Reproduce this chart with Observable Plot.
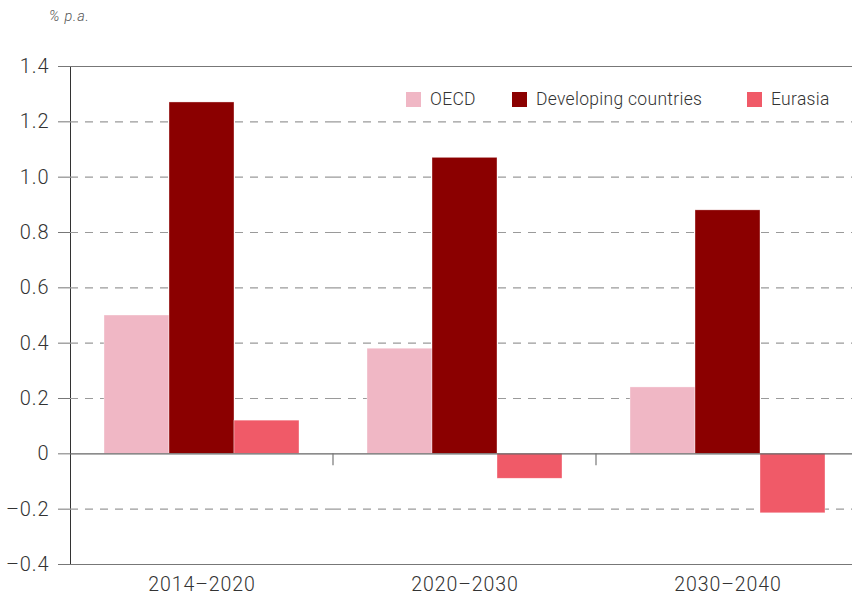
<!DOCTYPE html>
<html>
<head>
<meta charset="utf-8">
<script src="https://cdn.jsdelivr.net/npm/d3@7"></script>
<script src="https://cdn.jsdelivr.net/npm/@observablehq/plot@0.6"></script>
<style>
  html, body { margin: 0; padding: 0; background: #fff; overflow: hidden; }
  #wrap { position: relative; width: 852px; height: 600px; overflow: hidden; font-family: Roboto, "Liberation Sans", sans-serif; font-weight: 300; color: #333; }
  #unit { position: absolute; left: 49px; top: 8px; font-size: 14.5px; letter-spacing: 0.8px; font-style: italic; color: #555; }
  #chart { position: absolute; left: 0; top: 30px; }
  #legend { position: absolute; top: 89px; left: 0; width: 852px; height: 20px; }
  .item { position: absolute; top: 0; display: flex; align-items: center; font-size: 17.5px; letter-spacing: 0.3px; color: #333; white-space: nowrap; }
  .sw { width: 15px; height: 15px; margin-right: 9px; }
  #chart svg text { font-family: Roboto, "Liberation Sans", sans-serif; font-weight: 300; fill: #333; }
  #chart svg [aria-label="y-axis tick label"] text { font-size: 20px; letter-spacing: 0.9px; }
  #chart svg [aria-label="fx-axis tick label"] text { font-size: 19.5px; letter-spacing: 0.9px; }
</style>
</head>
<body>
<div id="wrap">
  <div id="unit">% p.a.</div>
  <div id="chart"></div>
  <div id="legend"></div>
</div>
<script>
const periods = ["2014–2020", "2020–2030", "2030–2040"];
const series = ["OECD", "Developing countries", "Eurasia"];
const oecd = [0.50, 0.38, 0.24];
const developing = [1.27, 1.07, 0.88];
const eurasia = [0.12, -0.09, -0.215];
const colors = ["#f0b7c5", "#8b0000", "#f05a68"];
const yTicks = [-0.4, -0.2, 0, 0.2, 0.4, 0.6, 0.8, 1.0, 1.2, 1.4];
const yTickLabels = ["–0.4", "–0.2", "0", "0.2", "0.4", "0.6", "0.8", "1.0", "1.2", "1.4"];
const legendLeft = [406, 512, 747];

const valuesBySeries = [oecd, developing, eurasia];
const data = [];
periods.forEach((p, i) => series.forEach((s, j) => data.push({period: p, series: s, value: valuesBySeries[j][i]})));

const dashedGrid = yTicks.filter(v => v !== 0 && v !== yTicks[0] && v !== yTicks[yTicks.length - 1]);
const solidEdges = [yTicks[0], yTicks[yTicks.length - 1]];

const chart = Plot.plot({
  width: 859,
  height: 570,
  marginLeft: 70,
  marginRight: 0,
  marginTop: 36,
  marginBottom: 36,
  style: {fontSize: "16px", background: "transparent", overflow: "visible", maxWidth: "none"},
  fx: {domain: periods, padding: 0, axis: "bottom", label: null, tickSize: 0, tickPadding: 13},
  x: {domain: series, paddingInner: 0, paddingOuter: 0.5, axis: null},
  y: {domain: [-0.4, 1.4], ticks: yTicks, tickSize: 12, tickPadding: 9,
      tickFormat: v => yTickLabels[yTicks.indexOf(v)] ?? "", label: null, line: true},
  color: {domain: series, range: colors},
  marks: [
    Plot.ruleY(dashedGrid, {stroke: "#9a9a9a", strokeWidth: 1.2, strokeDasharray: "8,7"}),
    Plot.barY(data, {fx: "period", x: "series", y: "value", fill: "series", stroke: "#fff", strokeWidth: 0.6, strokeOpacity: 0.6}),
    Plot.ruleY(solidEdges, {stroke: "#777", strokeWidth: 1.2}),
    Plot.ruleY([0], {stroke: "#666", strokeWidth: 1.2})
  ]
});
document.getElementById("chart").appendChild(chart);

const svg = d3.select(chart);
svg.selectAll("[aria-label='y-axis tick'] path, [aria-label='y-axis tick'], [aria-label='y-axis line']").attr("stroke", "#777");

// group separators at the zero line, placed with the library's scales
const fx = chart.scale("fx");
const y = chart.scale("y");
const y0 = y.apply(0);
periods.slice(1).forEach(p => {
  const xb = fx.apply(p);
  svg.append("line").attr("x1", xb).attr("x2", xb).attr("y1", y0).attr("y2", y0 + 12)
    .attr("stroke", "#777").attr("stroke-width", 1.2);
});

// legend
const legend = document.getElementById("legend");
series.forEach((s, i) => {
  const item = document.createElement("div");
  item.className = "item";
  item.style.left = legendLeft[i] + "px";
  item.innerHTML = `<span class="sw" style="background:${colors[i]}"></span><span>${s}</span>`;
  legend.appendChild(item);
});
</script>
</body>
</html>
